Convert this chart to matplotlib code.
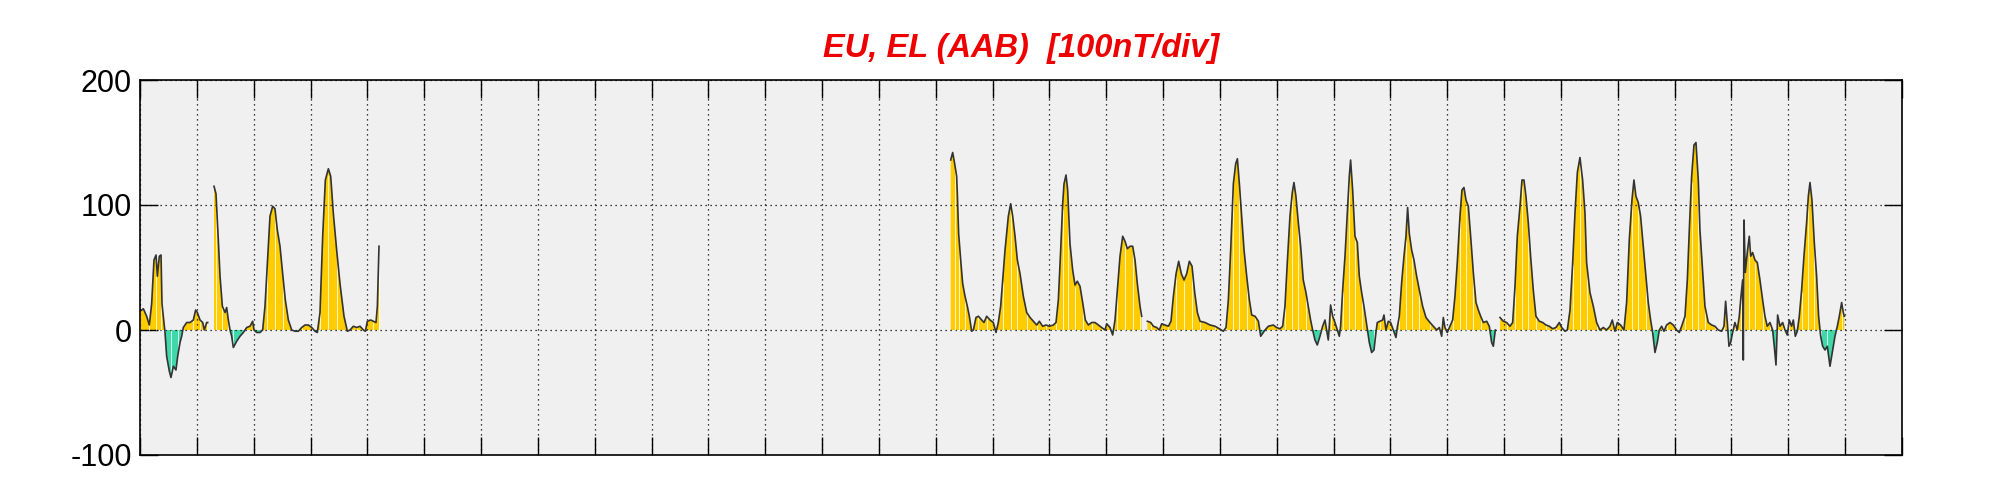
import numpy as np
import matplotlib
matplotlib.use('Agg')
import matplotlib.pyplot as plt

# EU/EL index, time in days from start of month, values in nT
seg1_t = [0.000, 0.059, 0.117, 0.164, 0.205, 0.246, 0.282, 0.305, 0.340, 0.370,
          0.387, 0.422, 0.440, 0.469, 0.516, 0.545, 0.587, 0.633, 0.663, 0.704,
          0.733, 0.762, 0.821, 0.880, 0.938, 0.979, 1.009, 1.056, 1.103, 1.132,
          1.173, 1.191, 1.250,
          1.302, 1.337, 1.378, 1.408, 1.449, 1.496, 1.525, 1.554, 1.584, 1.613,
          1.642, 1.701, 1.760, 1.818, 1.877, 1.935, 1.982, 2.006, 2.053, 2.111,
          2.158, 2.199, 2.240, 2.287, 2.334, 2.375, 2.416, 2.463, 2.510, 2.557,
          2.610, 2.669, 2.727, 2.786, 2.845, 2.903, 2.962, 3.021, 3.079, 3.120,
          3.167, 3.214, 3.261, 3.314, 3.355, 3.402, 3.460, 3.519, 3.589, 3.648,
          3.695, 3.754, 3.812, 3.871, 3.930, 3.965, 4.000, 4.059, 4.106, 4.152,
          4.176, 4.205]
seg1_v = [15, 17, 11, 4, 21, 56, 60, 43, 59, 60,
          21, 6, -2, -21, -33, -38, -29, -32, -21, -10,
          -5, 2, 6, 6, 8, 16, 14, 8, 6, 0,
          6, 6, np.nan,
          115, 109, 72, 43, 19, 14, 18, 8, 0, -5,
          -14, -9, -5, -2, 2, 3, 7, 0, -2, -2,
          0, 19, 53, 91, 99, 97, 80, 67, 45, 24,
          8, 0, -1, -1, 2, 4, 4, 2, -1, -2,
          14, 75, 120, 129, 123, 93, 64, 37, 11, -1,
          0, 3, 2, 3, 0, -1, 7, 8, 7, 6,
          19, 67]

seg2_t = [14.263, 14.298, 14.333, 14.368, 14.380, 14.403, 14.439, 14.474, 14.515, 14.556,
          14.591, 14.632, 14.662, 14.708, 14.750, 14.808, 14.849, 14.896, 14.955, 15.013,
          15.060, 15.101, 15.142, 15.178, 15.219, 15.277, 15.318, 15.354, 15.395, 15.436,
          15.483, 15.541, 15.600, 15.659, 15.717, 15.776, 15.823, 15.881, 15.940, 15.999,
          16.069, 16.116, 16.157, 16.198, 16.233, 16.257, 16.292, 16.321, 16.362, 16.409,
          16.450, 16.491, 16.538, 16.585, 16.632, 16.685, 16.744, 16.802, 16.861, 16.920,
          16.978, 17.008, 17.066, 17.113, 17.154, 17.195, 17.242, 17.289, 17.330, 17.371,
          17.418, 17.465, 17.506, 17.547, 17.594, 17.623, 17.670,
          17.723, 17.782, 17.829, 17.887, 17.934, 17.975, 18.034, 18.093, 18.139, 18.181,
          18.228, 18.274, 18.321, 18.368, 18.415, 18.462, 18.509, 18.556, 18.603, 18.650,
          18.738, 18.826, 18.914, 18.990, 19.060, 19.107, 19.148, 19.189, 19.236, 19.277,
          19.307, 19.342, 19.383, 19.424, 19.471, 19.518, 19.559, 19.618, 19.677, 19.717,
          19.793, 19.852]
seg2_v = [136, 142, 133, 123, 109, 77, 56, 37, 27, 19,
          11, -1, 0, 10, 11, 8, 6, 11, 8, 6,
          -2, 6, 19, 40, 64, 91, 101, 91, 75, 56,
          45, 27, 14, 10, 7, 4, 7, 3, 4, 3,
          4, 6, 24, 64, 101, 117, 124, 112, 69, 48,
          36, 39, 35, 22, 8, 4, 6, 6, 4, 2,
          0, 5, 2, -4, 8, 32, 59, 75, 71, 65,
          67, 67, 56, 37, 19, 11, np.nan,
          7, 6, 3, 2, 0, 5, 4, 3, 7, 27,
          45, 55, 45, 40, 45, 55, 51, 30, 14, 7,
          6, 4, 3, 1, -1, 2, 24, 64, 117, 133,
          137, 117, 91, 64, 43, 24, 12, 11, 7, -5,
          0, 3]

seg3_t = [19.939, 19.997, 20.056, 20.103, 20.144, 20.185, 20.232, 20.273, 20.302, 20.337,
          20.379, 20.420, 20.466, 20.513, 20.554, 20.595, 20.631, 20.672, 20.713, 20.760,
          20.807, 20.848, 20.877, 20.906, 20.924, 20.947, 20.983, 21.024, 21.065, 21.100,
          21.123, 21.159, 21.200, 21.241, 21.276, 21.299, 21.335, 21.376, 21.417, 21.452,
          21.493, 21.534, 21.569, 21.593, 21.628, 21.669, 21.710, 21.745, 21.768, 21.815,
          21.862, 21.886, 21.921, 21.962, 22.003, 22.050, 22.097, 22.120, 22.156, 22.197,
          22.238, 22.273, 22.302, 22.332, 22.373, 22.414, 22.461, 22.508, 22.566, 22.625,
          22.695, 22.754, 22.813, 22.860, 22.901, 22.930, 22.959, 23.000, 23.047, 23.094,
          23.135, 23.176, 23.223, 23.258, 23.293, 23.329, 23.370, 23.411, 23.458, 23.505,
          23.546, 23.587, 23.634, 23.693, 23.739, 23.780, 23.810, 23.845, 23.880,
          23.927, 23.986, 24.044, 24.103, 24.150, 24.191, 24.232, 24.279, 24.314, 24.349,
          24.384, 24.425, 24.466, 24.513, 24.560, 24.619, 24.678, 24.736, 24.795, 24.854,
          24.912, 24.971, 25.012, 25.071, 25.112, 25.159, 25.206, 25.247, 25.288, 25.334,
          25.381, 25.422]
seg3_v = [4, 2, 1, 3, 19, 54, 91, 110, 118, 107,
          86, 67, 40, 30, 19, 8, 0, -8, -12, -5,
          3, 8, 0, -8, 3, 20, 11, 6, 0, -5,
          3, 32, 59, 94, 123, 136, 112, 75, 70, 43,
          30, 19, 8, 0, -10, -18, -16, -2, 6, 7,
          8, 12, 0, 7, 6, 0, -6, 2, 11, 38,
          59, 75, 98, 77, 64, 56, 43, 32, 19, 10,
          6, 3, 0, 2, -5, 10, 2, -2, 3, 8,
          27, 54, 91, 112, 114, 104, 99, 75, 46, 22,
          16, 11, 6, 7, 3, -10, -13, 0, np.nan,
          10, 7, 6, 3, 6, 35, 75, 99, 120, 120,
          107, 86, 59, 32, 11, 7, 6, 4, 3, 1,
          2, 6, 2, -1, 0, 16, 54, 94, 126, 138,
          120, 94]

seg4_t = [25.451, 25.510, 25.569, 25.627, 25.686, 25.745, 25.803, 25.862, 25.903, 25.950,
          25.991, 26.050, 26.108, 26.155, 26.202, 26.249, 26.284, 26.319, 26.360, 26.401,
          26.448, 26.495, 26.536, 26.577, 26.613, 26.654, 26.695, 26.730, 26.771, 26.812,
          26.859, 26.918, 26.976, 27.035, 27.082, 27.123, 27.182, 27.223, 27.258, 27.299,
          27.340, 27.375, 27.416, 27.445, 27.492, 27.533, 27.592, 27.651, 27.709, 27.768,
          27.827, 27.868, 27.897, 27.926, 27.956, 27.985, 28.020, 28.061, 28.102, 28.137,
          28.167, 28.196, 28.208, 28.220, 28.243, 28.278, 28.313, 28.337, 28.372, 28.413,
          28.454, 28.501, 28.548, 28.589, 28.630, 28.677, 28.724, 28.753, 28.783, 28.812,
          28.853, 28.900, 28.941, 28.982, 29.017, 29.058, 29.088, 29.123, 29.158, 29.193,
          29.234, 29.275, 29.322, 29.352, 29.381, 29.416, 29.457, 29.498, 29.533, 29.569,
          29.604, 29.645, 29.686, 29.733, 29.780, 29.821, 29.862, 29.897, 29.938, 29.967,
          29.985]
seg4_v = [54, 30, 19, 6, 0, 2, 0, 3, 8, -1,
          6, 4, 0, 22, 72, 104, 120, 107, 102, 91,
          67, 43, 22, 8, -2, -18, -10, 0, 3, -1,
          4, 6, 4, 0, -2, 3, 11, 40, 80, 123,
          148, 150, 120, 80, 48, 19, 6, 4, 3, 0,
          -1, 3, 23, 6, -13, -10, -2, 6, 0, 11,
          27, 40, -24, 88, 46, 62, 75, 59, 62, 56,
          54, 40, 24, 11, 3, 6, 0, -13, -28, 12,
          3, 6, 0, -4, 8, 3, 8, -5, -1, 11,
          32, 59, 86, 107, 118, 104, 70, 43, 11, -5,
          -13, -16, -13, -29, -16, -5, 3, 11, 22, 14,
          11]

ndays = 31
yticks = [-100, 0, 100, 200]
title = 'EU, EL (AAB)  [100nT/div]'

# data gap between day ~4.2 and ~14.26 -> break with a NaN sample
t = np.array(seg1_t + [9.0] + seg2_t + seg3_t + seg4_t)
v = np.array(seg1_v + [np.nan] + seg2_v + seg3_v + seg4_v, dtype=float)

plt.rcParams['font.family'] = ['Liberation Sans', 'DejaVu Sans']

fig = plt.figure(figsize=(20.01, 5), dpi=100)
ax = fig.add_axes([140/2001, 45/500, 1762/2001, 375/500])
ax.set_facecolor('#f0f0f0')

ax.fill_between(t, v, 0, where=v >= 0, interpolate=True, color='#ffcc00', lw=0)
ax.fill_between(t, v, 0, where=v <= 0, interpolate=True, color='#40d8a8', lw=0)
# faint seams like the original bar-style fill
ok = ~np.isnan(v)
ax.vlines(t[ok][::3], 0, v[ok][::3] * 0.96, colors='white', lw=0.7, alpha=0.8)
ax.plot(t, v, color='#333333', lw=1.2)

ax.set_xlim(0, ndays)
ax.set_ylim(-100, 200)
ax.set_xticks(range(ndays + 1))
ax.set_xticklabels([])
ax.set_yticks(yticks)
ax.set_yticklabels([str(y) for y in yticks], fontsize=22)
ax.tick_params(direction='in', length=13, width=1, top=True, right=True,
               colors='black', pad=6)
ax.grid(True, color='black', linestyle=(0, (1, 3)), lw=0.9)
for s in ax.spines.values():
    s.set_linewidth(1.2)

fig.text(140/2001 + 881/2001, 1 - 57/500, title, ha='center', va='baseline',
         color='#ee0000', fontsize=23.5, fontweight='bold', fontstyle='italic')

fig.savefig('out.png', dpi=100)
